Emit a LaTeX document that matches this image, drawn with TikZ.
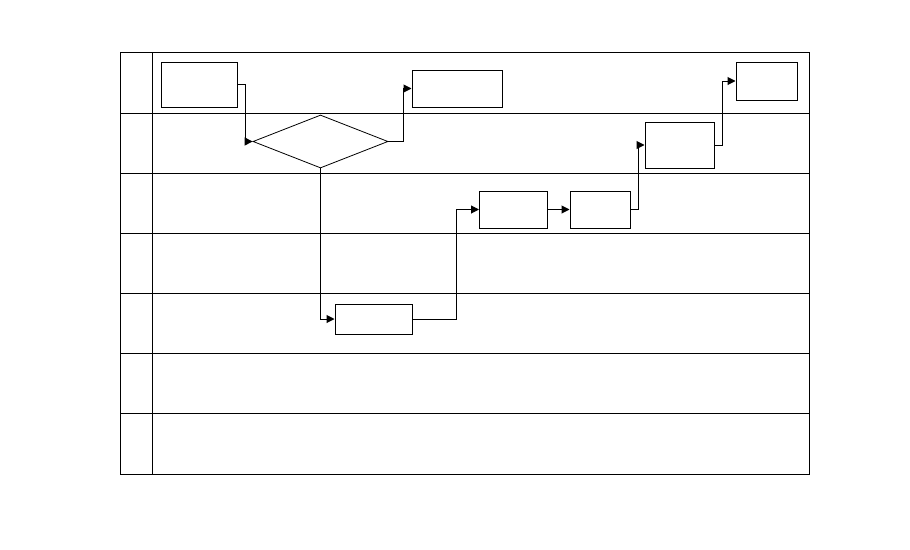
\documentclass[tikz,border=0pt]{standalone}
\usetikzlibrary{arrows.meta,shapes.geometric}
\begin{document}
\begin{tikzpicture}[x=1pt,y=-1pt,
  grid/.style={line width=1pt,black},
  box/.style={draw,line width=1pt,rectangle,inner sep=0pt},
  dec/.style={draw,line width=0.8pt,diamond,inner sep=0pt,aspect=2.5},
  arr/.style={line width=1pt,-{Triangle[length=8pt,width=8pt]}},
  lnk/.style={line width=1pt}]
\useasboundingbox (0,0) rectangle (910,549);
% table
\draw[grid] (120,52) rectangle (809.5,474);
\draw[grid] (152,52) -- (152,474);
\foreach \y in {113,173,233,293,353,413}{\draw[grid] (120,\y) -- (809.5,\y);}
% nodes
\node[box,minimum width=76pt,minimum height=45pt] (A) at (199,84.5) {};
\node[dec,minimum width=135pt,minimum height=53pt] (D) at (320.5,141.5) {};
\node[box,minimum width=90pt,minimum height=37pt] (B) at (457,88.5) {};
\node[box,minimum width=77pt,minimum height=30pt] (E) at (373.5,319) {};
\node[box,minimum width=68pt,minimum height=37pt] (F) at (513.5,209.5) {};
\node[box,minimum width=60pt,minimum height=37pt] (G) at (600,209.5) {};
\node[box,minimum width=69pt,minimum height=46pt] (H) at (679.5,145) {};
\node[box,minimum width=61pt,minimum height=38pt] (I) at (766.5,81) {};
% connectors
\draw[arr] (A.east) -- (245,84.5) |- (D.west);
\draw[arr] (D.east) -- (403,141.5) |- (B.west);
\draw[arr] (D.south) |- (E.west);
\draw[arr] (E.east) -- (456.5,319) |- (F.west);
\draw[arr] (F.east) -- (G.west);
\draw[arr] (G.east) -- (638,209.5) |- (H.west);
\draw[arr] (H.east) -- (722,145) |- (I.west);
\end{tikzpicture}
\end{document}
